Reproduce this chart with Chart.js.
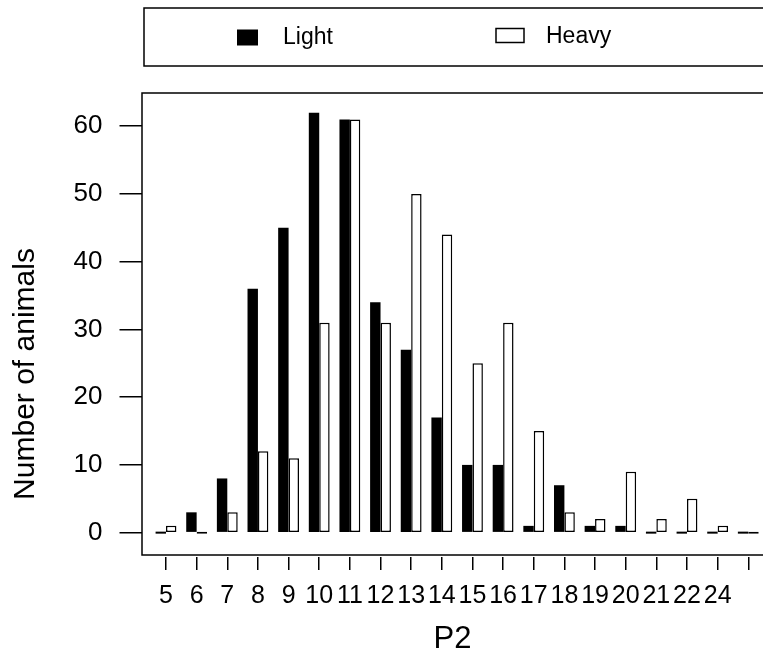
<!DOCTYPE html>
<html>
<head>
<meta charset="utf-8">
<script src="https://cdn.jsdelivr.net/npm/chart.js@4/dist/chart.umd.min.js"></script>
<style>
  html, body { margin: 0; padding: 0; background: #fff; }
  #wrap { width: 763px; height: 657px; position: relative; }
</style>
</head>
<body>
<div id="wrap"><canvas id="c" width="763" height="657"></canvas></div>
<script>
// ---- data ----
const categories = ['5','6','7','8','9','10','11','12','13','14','15','16','17','18','19','20','21','22','24',''];
const lightCounts = [0, 3, 8, 36, 45, 62, 61, 34, 27, 17, 10, 10, 1, 7, 1, 1, 0, 0, 0, 0];
const heavyCounts = [1, 0, 3, 12, 11, 31, 61, 31, 50, 44, 25, 31, 15, 3, 2, 9, 2, 5, 1, 0];
const seriesNames = ['Light', 'Heavy'];
const yTitle = 'Number of animals';
const xTitle = 'P2';

const FONT = "'Liberation Sans', Arial, sans-serif";
Chart.defaults.font.family = FONT;
Chart.defaults.color = '#000';

// box around the plot area (open on the right, like the reference)
const boxPlugin = {
  id: 'plotBox',
  afterDraw(chart) {
    const {ctx, chartArea: a} = chart;
    ctx.save();
    ctx.strokeStyle = '#000';
    ctx.lineWidth = 1.5;
    ctx.strokeRect(a.left, a.top, a.right - a.left + 20, a.bottom - a.top);
    ctx.restore();
  }
};

// rotated y title placed like the reference
const yTitlePlugin = {
  id: 'yTitle',
  afterDraw(chart) {
    const {ctx} = chart;
    ctx.save();
    ctx.translate(26, 374);
    ctx.rotate(-Math.PI / 2);
    ctx.font = '30px ' + FONT;
    ctx.fillStyle = '#000';
    ctx.textAlign = 'center';
    ctx.textBaseline = 'middle';
    ctx.fillText(yTitle, 0, 0);
    ctx.restore();
  }
};

// framed legend at the top
const legendPlugin = {
  id: 'boxLegend',
  afterDraw(chart) {
    const {ctx} = chart;
    const ds = chart.data.datasets;
    ctx.save();
    ctx.strokeStyle = '#000';
    ctx.lineWidth = 1.5;
    ctx.strokeRect(144, 8, 640, 58);
    ctx.font = '23px ' + FONT;
    ctx.textBaseline = 'middle';
    ctx.fillStyle = '#000';
    // Light item
    ctx.fillStyle = ds[0].backgroundColor;
    ctx.fillRect(237, 29.5, 21, 16);
    ctx.fillStyle = '#000';
    ctx.fillText(ds[0].label, 283, 38);
    // Heavy item
    ctx.fillStyle = ds[1].backgroundColor;
    ctx.fillRect(496, 28.5, 28, 14);
    ctx.strokeRect(496, 28.5, 28, 14);
    ctx.fillStyle = '#000';
    ctx.fillText(ds[1].label, 546, 37);
    ctx.restore();
  }
};

const toPoints = arr => arr.map((y, i) => ({x: i, y}));

new Chart(document.getElementById('c'), {
  type: 'bar',
  data: {
    datasets: [
      {
        label: seriesNames[0],
        data: toPoints(lightCounts),
        backgroundColor: '#000',
        borderColor: '#000',
        borderWidth: 0
      },
      {
        label: seriesNames[1],
        data: toPoints(heavyCounts),
        backgroundColor: '#fff',
        borderColor: '#000',
        borderWidth: 1.5
      }
    ]
  },
  options: {
    responsive: false,
    animation: false,
    events: [],
    layout: { padding: { top: 93, left: 0, right: 0, bottom: 0 } },
    datasets: {
      bar: {
        borderSkipped: false,
        minBarLength: 2,
        categoryPercentage: 0.68,
        barPercentage: 1
      }
    },
    plugins: {
      legend: { display: false },
      tooltip: { enabled: false },
      title: { display: false }
    },
    scales: {
      x: {
        type: 'linear',
        offset: false,
        min: -0.783,
        max: 19.48,
        afterFit(s) { s.height = 102; },
        border: { display: false },
        grid: {
          offset: false,
          drawOnChartArea: false,
          drawTicks: true,
          tickLength: 15,
          color: '#000',
          lineWidth: 1.5,
          tickBorderDash: [13, 2],
          tickBorderDashOffset: 13
        },
        ticks: {
          stepSize: 1,
          includeBounds: false,
          autoSkip: false,
          maxRotation: 0,
          minRotation: 0,
          padding: 11,
          color: '#000',
          font: { size: 25 },
          callback: (v) => categories[Math.round(v)] ?? ''
        },
        title: {
          display: true,
          text: xTitle,
          color: '#000',
          font: { size: 31, lineHeight: 1 },
          padding: { top: 0, bottom: 2 }
        }
      },
      y: {
        type: 'linear',
        min: -3.3,
        max: 64.9,
        afterFit(s) { s.width = 142; },
        border: { display: false },
        grid: {
          drawOnChartArea: false,
          drawTicks: true,
          tickLength: 22.5,
          color: '#000',
          lineWidth: 1.5
        },
        ticks: {
          stepSize: 10,
          includeBounds: false,
          padding: 17,
          color: '#000',
          font: { size: 26 }
        }
      }
    }
  },
  plugins: [boxPlugin, yTitlePlugin, legendPlugin]
});
</script>
</body>
</html>
